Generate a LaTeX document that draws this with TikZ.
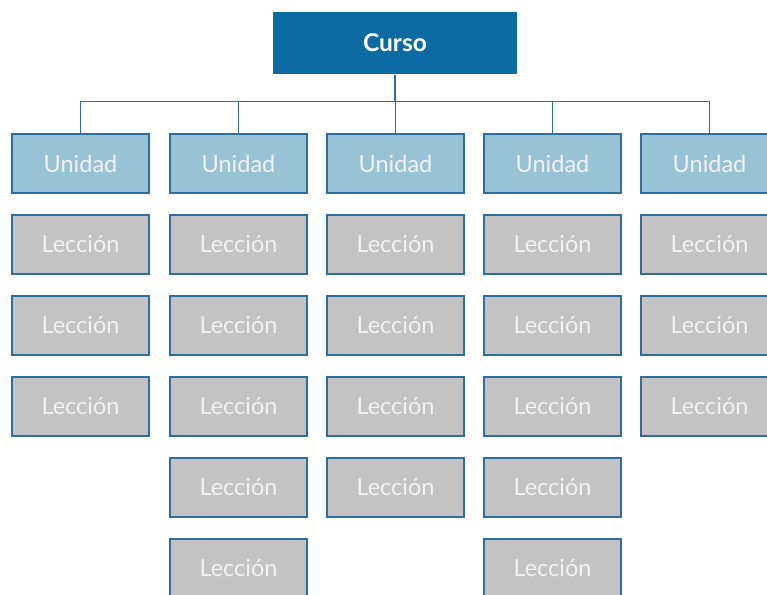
\documentclass[tikz,border=0pt]{standalone}
\usepackage{fontspec}
\setmainfont{Lato}
\definecolor{cursoblue}{HTML}{0B6BA2}
\definecolor{unitblue}{HTML}{97C3D5}
\definecolor{lessongray}{HTML}{C3C3C3}
\definecolor{edgeblue}{HTML}{2C6E9F}
\definecolor{labelwhite}{HTML}{F2F2F2}
\tikzset{
  box/.style={draw=edgeblue, line width=1.4pt, minimum width=137pt, minimum height=59pt,
    inner sep=0pt, font=\fontsize{23.5}{23.5}\selectfont, text=labelwhite},
  cursobox/.style={box, draw=none, fill=cursoblue, minimum width=244pt, minimum height=62pt,
    text=white, font=\fontsize{24.5}{24.5}\selectfont\bfseries},
  unitbox/.style={box, fill=unitblue},
  lessonbox/.style={box, fill=lessongray},
  link/.style={draw=edgeblue, line width=1.1pt}
}
\begin{document}
\begin{tikzpicture}[x=1pt,y=-1pt]
\useasboundingbox (0,0) rectangle (767,594);
\clip (0,0) rectangle (767,594);
\node[cursobox] (curso) at (395,43) {Curso};
\coordinate (bus) at (395,102);
% units and their lessons
\foreach \c/\x/\n in {1/80.5/3, 2/238.5/5, 3/395.5/4, 4/552.5/5, 5/709.5/3} {
  \node[unitbox] (u\c) at (\x,163.5) {Unidad};
  \foreach \k in {1,...,\n} {
    \node[lessonbox] (l\c-\k) at (\x,163.5+81*\k) {Lección};
  }
}
\draw[link] (curso.south) -- (bus);
\draw[link] (u1.north) -- ++(0,-32) -| (u5.north);
\foreach \c in {2,3,4} {
  \draw[link] (u\c.north) -- ++(0,-32);
}
\end{tikzpicture}
\end{document}
